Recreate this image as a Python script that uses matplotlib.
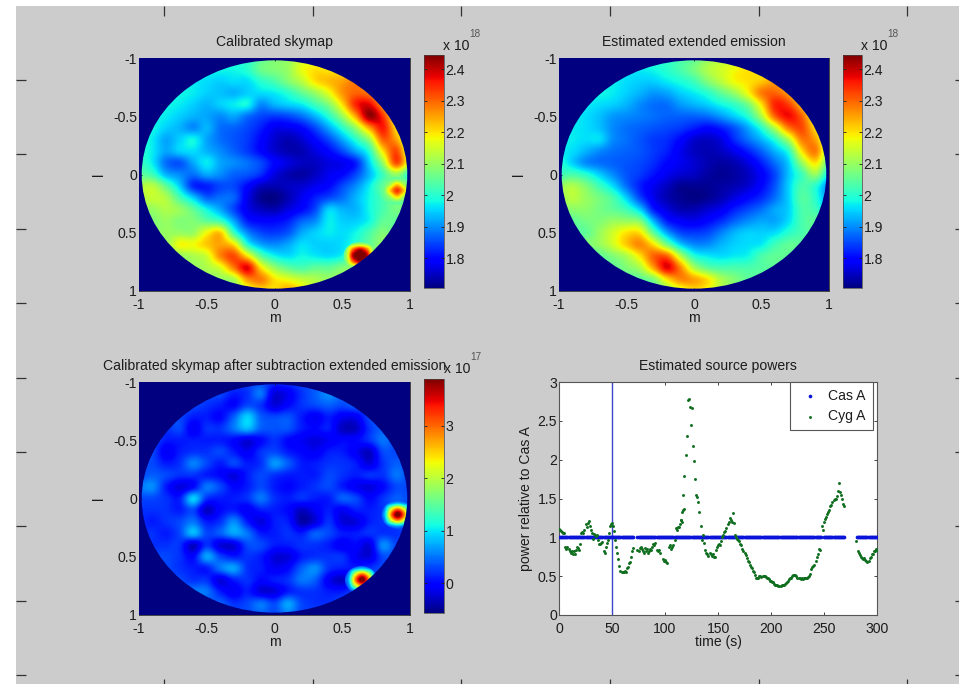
import numpy as np
import matplotlib
matplotlib.use("Agg")
import matplotlib.pyplot as plt
from matplotlib.patches import Circle, PathPatch
from matplotlib.path import Path

plt.rcParams['font.family'] = ['Liberation Sans', 'DejaVu Sans']

W, H = 959, 684
GRAY = '#cccccc'
INK = '#1c1c1c'
FS = 10.1

# Sky maps, rows y = -1..1, columns x = -1..1, step 0.1
calibrated = [
 [2.00,2.00,2.00,2.00,2.00,2.00,2.00,2.00,2.00,2.05,2.08,2.10,2.15,2.15,2.20,2.20,2.20,2.20,2.20,2.20,2.20],
 [1.98,1.98,1.98,1.98,1.98,1.98,1.98,1.98,2.00,2.06,2.08,2.10,2.17,2.20,2.20,2.20,2.22,2.22,2.20,2.20,2.20],
 [1.98,1.98,1.98,1.98,1.97,1.96,1.95,1.96,1.96,2.00,2.03,2.08,2.13,2.20,2.23,2.25,2.28,2.25,2.22,2.20,2.20],
 [1.98,1.98,1.98,1.98,1.97,1.95,1.94,1.93,1.95,1.96,1.97,2.00,2.05,2.10,2.17,2.26,2.30,2.28,2.20,2.20,2.20],
 [1.98,1.98,1.98,1.97,1.95,1.93,1.95,1.97,1.98,1.90,1.93,1.95,1.97,2.02,2.08,2.20,2.35,2.38,2.25,2.10,2.10],
 [1.98,1.98,1.97,1.95,1.93,1.92,1.90,1.92,1.88,1.85,1.84,1.85,1.88,1.93,2.00,2.10,2.25,2.43,2.34,2.15,2.10],
 [1.98,1.98,1.95,1.93,1.90,1.93,1.88,1.87,1.85,1.82,1.78,1.78,1.80,1.85,1.92,2.00,2.10,2.25,2.36,2.20,2.10],
 [2.00,1.97,1.92,1.95,1.98,1.92,1.88,1.86,1.84,1.80,1.76,1.74,1.76,1.80,1.85,1.92,2.00,2.10,2.30,2.25,2.10],
 [2.00,1.97,1.92,1.95,1.96,1.93,1.90,1.87,1.84,1.80,1.76,1.74,1.74,1.77,1.80,1.85,1.92,2.00,2.20,2.32,2.12],
 [2.02,1.97,1.88,1.86,1.92,1.97,1.92,1.90,1.88,1.85,1.80,1.77,1.75,1.75,1.77,1.78,1.82,1.95,2.10,2.32,2.15],
 [2.05,2.02,1.93,1.90,1.88,1.92,1.90,1.87,1.86,1.83,1.77,1.74,1.73,1.75,1.78,1.80,1.85,1.93,2.02,2.10,2.00],
 [2.12,2.13,2.05,1.95,1.83,1.82,1.85,1.85,1.80,1.75,1.74,1.75,1.76,1.78,1.80,1.85,1.90,1.97,2.05,2.08,2.05],
 [2.12,2.14,2.12,2.03,1.95,1.87,1.88,1.87,1.78,1.72,1.71,1.74,1.78,1.82,1.85,1.88,1.93,1.98,2.03,2.07,2.05],
 [2.10,2.10,2.12,2.10,2.05,1.98,1.92,1.85,1.78,1.75,1.74,1.77,1.80,1.85,1.95,1.93,1.93,1.98,2.03,2.07,2.05],
 [2.08,2.08,2.10,2.08,2.08,2.05,2.02,1.92,1.82,1.80,1.80,1.82,1.87,1.90,1.97,1.95,1.95,1.98,2.05,2.05,2.05],
 [2.05,2.08,2.10,2.10,2.10,2.18,2.22,2.02,1.90,1.85,1.84,1.86,1.92,1.95,1.97,1.96,1.98,2.03,2.08,2.05,2.05],
 [2.10,2.10,2.10,2.18,2.18,2.22,2.25,2.20,2.00,1.92,1.90,1.92,1.96,1.95,1.95,1.96,2.00,2.05,2.10,2.10,2.10],
 [2.10,2.10,2.10,2.10,2.12,2.15,2.27,2.32,2.20,2.05,1.98,1.96,1.98,1.97,1.96,1.98,2.05,2.07,2.10,2.10,2.10],
 [2.10,2.10,2.10,2.10,2.10,2.12,2.16,2.28,2.38,2.20,2.10,2.05,2.03,2.05,2.05,2.08,2.10,2.10,2.10,2.10,2.10],
 [2.10,2.10,2.10,2.10,2.10,2.10,2.10,2.12,2.26,2.28,2.20,2.17,2.14,2.12,2.10,2.10,2.10,2.10,2.10,2.10,2.10],
 [2.10,2.10,2.10,2.10,2.10,2.10,2.10,2.10,2.15,2.20,2.20,2.25,2.20,2.12,2.10,2.10,2.10,2.10,2.10,2.10,2.10],
]

extended = [
 [2.00,2.00,2.00,2.00,2.00,2.00,2.00,2.00,2.00,2.03,2.05,2.10,2.13,2.15,2.18,2.20,2.20,2.20,2.20,2.20,2.20],
 [1.97,1.97,1.97,1.97,1.97,1.97,1.97,1.98,2.00,2.03,2.07,2.12,2.15,2.18,2.20,2.20,2.20,2.20,2.20,2.20,2.20],
 [1.97,1.97,1.97,1.97,1.97,1.96,1.95,1.95,1.97,1.99,2.02,2.08,2.13,2.18,2.20,2.22,2.25,2.20,2.20,2.20,2.20],
 [1.98,1.98,1.98,1.98,1.97,1.95,1.93,1.91,1.92,1.95,1.97,2.00,2.05,2.10,2.18,2.28,2.30,2.25,2.15,2.15,2.15],
 [1.97,1.97,1.97,1.96,1.95,1.93,1.90,1.88,1.88,1.91,1.93,1.95,1.98,2.01,2.07,2.20,2.35,2.33,2.22,2.10,2.10],
 [1.97,1.97,1.96,1.94,1.91,1.90,1.89,1.88,1.87,1.87,1.87,1.88,1.91,1.95,2.00,2.12,2.30,2.37,2.30,2.15,2.10],
 [1.98,1.97,1.96,1.94,1.90,1.88,1.87,1.86,1.85,1.84,1.82,1.80,1.82,1.86,1.92,2.00,2.13,2.28,2.32,2.20,2.10],
 [1.98,1.97,1.96,1.96,1.90,1.88,1.86,1.84,1.83,1.80,1.76,1.75,1.77,1.83,1.88,1.93,2.00,2.12,2.28,2.25,2.10],
 [1.97,1.96,1.93,1.90,1.88,1.87,1.86,1.84,1.82,1.78,1.75,1.74,1.75,1.78,1.82,1.87,1.93,2.00,2.20,2.28,2.10],
 [2.00,1.95,1.90,1.88,1.87,1.86,1.85,1.83,1.80,1.78,1.76,1.74,1.73,1.74,1.77,1.82,1.88,1.95,2.10,2.20,2.05],
 [2.02,2.03,2.00,1.95,1.90,1.86,1.84,1.81,1.78,1.76,1.75,1.73,1.72,1.73,1.75,1.79,1.85,1.94,2.02,2.10,1.97],
 [2.10,2.12,2.08,2.02,1.96,1.88,1.82,1.78,1.75,1.72,1.72,1.72,1.73,1.74,1.76,1.80,1.86,1.95,2.03,2.00,1.90],
 [2.10,2.13,2.10,2.07,2.03,1.95,1.85,1.78,1.74,1.72,1.71,1.72,1.74,1.77,1.80,1.83,1.88,1.95,2.04,2.00,1.90],
 [2.08,2.09,2.09,2.07,2.05,2.02,1.95,1.82,1.77,1.74,1.74,1.76,1.78,1.82,1.85,1.88,1.92,1.95,2.03,2.02,1.95],
 [2.05,2.05,2.07,2.08,2.10,2.10,2.08,1.93,1.82,1.79,1.78,1.80,1.83,1.87,1.90,1.92,1.92,1.96,2.03,2.05,2.05],
 [2.05,2.05,2.05,2.10,2.15,2.20,2.20,2.05,1.92,1.85,1.84,1.85,1.89,1.93,1.95,1.95,1.96,2.00,2.03,2.05,2.05],
 [2.08,2.08,2.08,2.10,2.15,2.22,2.27,2.20,2.07,1.95,1.90,1.90,1.93,1.95,1.96,1.97,2.02,2.05,2.05,2.05,2.05],
 [2.05,2.05,2.05,2.05,2.08,2.12,2.20,2.30,2.30,2.13,2.00,1.97,1.96,1.97,1.98,2.03,2.05,2.05,2.05,2.05,2.05],
 [2.05,2.05,2.05,2.05,2.05,2.08,2.12,2.25,2.38,2.27,2.12,2.05,2.03,2.03,2.03,2.04,2.05,2.05,2.05,2.05,2.05],
 [2.05,2.05,2.05,2.05,2.05,2.05,2.05,2.08,2.20,2.27,2.25,2.20,2.12,2.08,2.05,2.05,2.05,2.05,2.05,2.05,2.05],
 [2.05,2.05,2.05,2.05,2.05,2.05,2.05,2.05,2.10,2.15,2.20,2.18,2.12,2.08,2.05,2.05,2.05,2.05,2.05,2.05,2.05],
]

residual = [
 [0.3,0.3,0.3,0.3,0.3,0.3,0.3,0.3,0.3,0.3,0.2,0.2,0.3,0.3,0.4,0.3,0.3,0.3,0.3,0.3,0.3],
 [0.3,0.3,0.3,0.3,0.3,0.3,0.3,0.1,0.2,0.5,-0.2,-0.1,0.2,0.4,0.6,0.4,0.3,0.3,0.3,0.3,0.3],
 [0.3,0.3,0.3,0.3,0.3,0.2,0.1,0.0,0.3,0.2,-0.2,0.0,0.2,0.3,0.4,0.3,0.4,0.3,0.3,0.3,0.3],
 [0.3,0.3,0.3,0.3,0.1,0.1,0.0,0.4,0.9,0.4,0.3,0.35,0.1,-0.1,0.1,-0.1,-0.1,0.3,0.4,0.3,0.3],
 [0.3,0.3,0.2,0.3,-0.1,0.2,0.2,0.5,0.8,0.4,0.35,0.35,0.1,0.0,0.1,-0.3,-0.3,0.2,0.4,0.3,0.3],
 [0.3,0.3,0.1,0.1,0.1,0.1,0.1,0.0,-0.2,0.0,0.2,0.0,-0.1,-0.2,-0.1,0.0,0.0,0.2,0.5,0.3,0.3],
 [0.3,0.3,-0.1,0.1,0.2,0.2,0.3,0.1,-0.1,0.2,0.3,0.1,0.0,-0.1,0.1,0.1,-0.1,-0.3,0.3,0.3,0.3],
 [0.3,0.3,0.1,0.2,0.55,0.3,0.1,0.3,0.1,0.2,0.65,0.4,0.1,0.1,0.2,0.2,0.1,-0.2,0.2,0.4,0.3],
 [0.3,0.4,0.3,0.2,0.2,0.1,0.0,-0.2,0.1,0.3,0.2,0.1,0.1,0.1,0.3,0.2,0.1,0.2,0.2,0.5,0.3],
 [0.5,0.6,0.1,-0.2,0.0,0.5,0.3,0.0,0.1,0.3,0.1,0.0,0.1,0.2,0.3,0.1,-0.1,-0.2,0.0,0.3,0.3],
 [0.3,0.3,0.2,0.1,0.9,0.2,0.1,0.1,0.2,0.5,0.2,0.1,0.2,0.1,0.1,0.4,0.3,0.0,0.2,0.4,0.3],
 [0.2,0.2,0.2,0.1,0.3,-0.3,0.0,0.1,-0.1,0.1,0.1,0.0,-0.3,-0.1,0.1,-0.1,0.1,0.1,0.2,0.4,0.3],
 [0.2,0.1,0.2,0.3,0.5,0.1,0.2,0.6,0.1,-0.2,0.1,0.1,-0.4,-0.2,0.2,-0.2,-0.2,0.1,0.2,0.3,0.3],
 [0.2,0.2,0.1,0.3,0.8,0.3,0.4,0.7,0.5,0.1,0.1,0.2,0.1,0.4,0.3,0.1,0.1,0.2,0.2,0.2,0.3],
 [0.3,0.2,0.2,0.2,-0.3,0.2,-0.2,-0.2,0.3,0.3,0.1,0.1,0.2,0.2,0.1,-0.1,0.0,-0.2,0.6,0.3,0.3],
 [0.3,0.3,0.3,0.2,0.0,0.7,0.3,0.1,0.2,0.1,-0.2,-0.2,0.1,0.2,0.2,0.2,-0.1,-0.2,0.3,0.3,0.3],
 [0.3,0.3,0.3,0.2,0.1,0.1,0.5,0.7,0.2,0.1,-0.1,0.0,0.4,0.6,0.2,0.1,0.1,0.2,0.3,0.3,0.3],
 [0.3,0.3,0.3,0.3,0.2,0.2,-0.2,0.1,0.2,0.0,0.1,0.2,0.5,0.4,-0.1,-0.3,0.1,0.3,0.3,0.3,0.3],
 [0.3,0.3,0.3,0.3,0.5,0.5,0.1,-0.1,0.1,-0.2,-0.2,0.1,0.2,0.2,0.1,0.1,0.3,0.3,0.3,0.3,0.3],
 [0.3,0.3,0.3,0.3,0.3,0.3,0.4,0.2,0.3,0.5,0.3,0.7,0.3,0.2,0.2,0.3,0.3,0.3,0.3,0.3,0.3],
 [0.3,0.3,0.3,0.3,0.3,0.3,0.3,0.3,0.3,0.4,0.3,0.5,0.3,0.3,0.3,0.3,0.3,0.3,0.3,0.3,0.3],
]

# Compact sources: centre and a 7x7 patch with 0.05 spacing
source_centres = [(0.63, 0.70), (0.90, 0.14)]
res_centres = [(0.64, 0.70), (0.91, 0.14)]
cal_spot_a = [
 [2.07,2.07,2.07,2.07,2.07,2.07,2.07],
 [2.07,2.07,2.09,2.10,2.09,2.07,2.07],
 [2.07,2.09,2.30,2.41,2.30,2.09,2.07],
 [2.07,2.10,2.41,2.46,2.41,2.10,2.07],
 [2.07,2.09,2.30,2.41,2.30,2.09,2.07],
 [2.07,2.07,2.09,2.10,2.09,2.07,2.07],
 [2.07,2.07,2.07,2.07,2.07,2.07,2.07],
]
cal_spot_b = [
 [2.05,2.05,2.05,2.05,2.05,2.05,2.05],
 [2.05,2.05,2.05,2.06,2.05,2.05,2.05],
 [2.05,2.05,2.12,2.22,2.12,2.05,2.05],
 [2.05,2.06,2.22,2.34,2.22,2.06,2.05],
 [2.05,2.05,2.12,2.22,2.12,2.05,2.05],
 [2.05,2.05,2.05,2.06,2.05,2.05,2.05],
 [2.05,2.05,2.05,2.05,2.05,2.05,2.05],
]
res_spot = [
 [0.30,0.30,0.30,0.30,0.30,0.30,0.30],
 [0.30,0.30,0.50,0.70,0.50,0.30,0.30],
 [0.30,0.50,2.00,2.80,2.00,0.50,0.30],
 [0.30,0.70,2.80,4.00,2.80,0.70,0.30],
 [0.30,0.50,2.00,2.80,2.00,0.50,0.30],
 [0.30,0.30,0.50,0.70,0.50,0.30,0.30],
 [0.30,0.30,0.30,0.30,0.30,0.30,0.30],
]

map_ticks = [-1, -0.5, 0, 0.5, 1]
map_labels = ['-1', '-0.5', '0', '0.5', '1']
cbar_ticks_18 = [1.8, 1.9, 2.0, 2.1, 2.2, 2.3, 2.4]
cbar_ticks_17 = [0, 1, 2, 3]
range_18 = (1.706, 2.445)
range_17 = (-0.57, 3.89)

# Source powers
cas_spans = [(0, 70), (74, 247), (250, 269), (281, 300)]
cas_spike_time = 50
cyg_t = list(range(0, 71)) + list(range(74, 96)) + list(range(98, 103)) + list(range(104, 117))
cyg_p = [1.11,1.10,1.08,1.07,1.06,1.05,0.87,0.85,0.88,0.85,0.83,0.80,0.82,0.78,0.82,0.79,0.84,0.87,0.86,0.84,
         0.91,1.05,1.07,1.06,1.10,1.17,1.13,1.18,1.21,1.15,1.10,1.05,0.98,1.04,1.03,1.02,1.03,0.96,0.92,0.91,
         0.93,0.94,0.83,0.80,0.88,0.93,0.96,1.05,1.15,1.17,1.19,1.14,1.08,0.97,0.88,0.80,0.72,0.63,0.57,0.55,
         0.56,0.55,0.57,0.56,0.60,0.62,0.67,0.68,0.75,0.82,0.86,
         0.84,0.82,0.86,0.87,0.85,0.83,0.80,0.86,0.82,0.85,0.80,0.83,0.85,0.84,0.87,0.92,0.90,0.93,0.84,0.82,0.84,0.80,
         0.72,0.70,0.71,0.68,0.67,
         0.87,0.90,0.85,0.87,0.90,0.97,1.12,1.10,1.13,1.13,1.17,1.22,1.20]
peak_t = [117.4,118,119.6,120.5,121.8,123,123.7,124.6,125.6,126.8,127.5,128.7,129.4,130.6,131.6,132.5,133.8,134.7,135.7,136.9,138]
peak_p = [1.54,1.79,2.06,2.31,2.77,2.78,2.68,2.45,2.67,2.18,1.98,1.75,1.55,1.52,1.46,1.32,1.15,0.97,1.03,0.93,0.84]
late_t = list(range(115, 119)) + list(range(139, 247)) + list(range(248, 270)) + [280] + list(range(282, 301))
late_p = [1.22,1.33,1.35,1.36,
          0.80,0.78,0.76,0.80,0.78,0.76,0.78,0.75,0.75,0.84,0.87,0.90,0.92,0.90,0.95,1.00,1.03,1.07,1.08,1.12,1.17,1.20,1.25,1.22,1.20,1.31,1.18,
          1.03,1.00,0.98,0.97,0.95,0.92,0.90,0.85,0.83,0.80,0.77,0.73,0.70,0.68,0.65,0.62,0.60,0.57,0.55,0.52,0.48,0.47,0.48,0.50,0.50,0.49,0.50,0.50,0.50,
          0.49,0.48,0.47,0.46,0.44,0.44,0.42,0.42,0.40,0.39,0.38,0.38,0.37,0.37,0.37,0.38,0.39,0.39,0.40,0.41,0.42,0.44,0.46,0.47,0.48,0.50,0.51,0.51,0.52,
          0.50,0.48,0.47,0.47,0.46,0.47,0.46,0.47,0.48,0.48,0.48,0.49,0.50,0.53,0.59,0.62,0.63,0.65,0.70,0.75,0.78,0.85,0.84,
          1.14,1.10,1.20,1.23,1.26,1.30,1.33,1.35,1.40,1.42,1.45,1.48,1.49,1.50,1.53,1.60,1.70,1.58,1.55,1.50,1.43,1.40,
          0.95,
          0.82,0.80,0.77,0.75,0.73,0.72,0.73,0.71,0.70,0.68,0.70,0.73,0.75,0.79,0.78,0.82,0.83,0.85,0.84]
late_n = min(len(late_t), len(late_p))
late_t, late_p = late_t[:late_n], late_p[:late_n]

frame_x = [164, 313, 461, 610, 759, 907]
frame_y = [80, 154, 229, 303, 378, 452, 526, 601, 675]


def rect(x0, y0, x1, y1):
    return [x0 / W, 1 - y1 / H, (x1 - x0) / W, (y1 - y0) / H]


def ftext(x, y, s, **kw):
    kw.setdefault('color', INK)
    kw.setdefault('fontsize', FS)
    kw.setdefault('ha', 'center')
    kw.setdefault('va', 'center')
    return fig.text(x / W, 1 - y / H, s, **kw)


fig = plt.figure(figsize=(W / 100, H / 100), dpi=100, facecolor='white')

# gray panel with its stray frame ticks
bg = fig.add_axes(rect(16, 6, 965, 689), facecolor=GRAY)
bg.set_xlim(16, 965)
bg.set_ylim(689, 6)
for s in bg.spines.values():
    s.set_visible(False)
bg.set_xticks(frame_x)
bg.set_yticks(frame_y)
bg.tick_params(direction='in', length=7, width=0.9, color='#333333',
               top=True, bottom=True, left=True, right=True,
               labelbottom=False, labelleft=False)


def draw_map(box, cbox, grid, spots, centres, vrange, cticks, title, exp, ex_pos):
    ax = fig.add_axes(rect(*box))
    cmap = plt.get_cmap('jet')
    vmin, vmax = vrange
    ax.set_facecolor(cmap(0.0))
    im = ax.imshow(grid, extent=(-1.05, 1.05, 1.05, -1.05), cmap=cmap, vmin=vmin, vmax=vmax,
                   interpolation='catrom', aspect='auto', zorder=1)
    for spot, (cx, cy) in zip(spots, centres):
        sp = ax.imshow(spot, extent=(cx - 0.175, cx + 0.175, cy + 0.175, cy - 0.175), cmap=cmap,
                       vmin=vmin, vmax=vmax, interpolation='catrom', aspect='auto', zorder=2)
        sp.set_clip_path(Circle((cx, cy), 0.12, transform=ax.transData))
    # everything outside the sky circle is the lowest colour
    sq = Path([(-1.2, -1.2), (-1.2, 1.2), (1.2, 1.2), (1.2, -1.2), (-1.2, -1.2)],
              [Path.MOVETO, Path.LINETO, Path.LINETO, Path.LINETO, Path.CLOSEPOLY])
    hole = Path.circle((0, 0), 0.98)
    ax.add_patch(PathPatch(Path.make_compound_path(sq, hole), facecolor=cmap(0.0), lw=0, zorder=3))
    ax.set_xlim(-1, 1)
    ax.set_ylim(1, -1)
    ax.set_xticks(map_ticks, map_labels)
    ax.set_yticks(map_ticks, map_labels)
    ax.tick_params(direction='in', length=2.5, width=0.6, color='#222222', top=True, right=True,
                   labelsize=FS, labelcolor=INK)
    ax.tick_params(axis='x', pad=5)
    ax.tick_params(axis='y', pad=1.5)
    for s in ax.spines.values():
        s.set_linewidth(0.7)
        s.set_color('#444444')
    ax.set_xlabel('m', fontsize=FS, color=INK, labelpad=-1)
    ax.set_ylabel('l', fontsize=FS, color=INK, labelpad=5)
    ax.set_title(title, fontsize=FS, color=INK, pad=8.5)
    cax = fig.add_axes(rect(*cbox))
    cb = fig.colorbar(im, cax=cax)
    cb.set_ticks(cticks, labels=[f'{t:g}' for t in cticks])
    cax.tick_params(direction='in', length=2, width=0.6, color='#222222', left=True, right=True,
                    labelsize=FS, labelcolor=INK, pad=1)
    cb.outline.set_linewidth(0.5)
    cb.outline.set_edgecolor('#444444')
    ftext(ex_pos[0], ex_pos[1], 'x 10')
    ftext(ex_pos[0] + 19, ex_pos[1] - 12, exp, fontsize=7.2, color='#555555')
    return ax


draw_map((139, 58, 410, 291), (424, 55, 444, 288), calibrated, [cal_spot_a, cal_spot_b], source_centres,
         range_18, cbar_ticks_18, 'Calibrated skymap', '18', (456, 46))
draw_map((559, 58, 829, 291), (843, 55, 862, 288), extended, [], [],
         range_18, cbar_ticks_18, 'Estimated extended emission', '18', (874, 46))
draw_map((139, 382, 410, 615), (424, 379, 444, 613), residual, [res_spot, res_spot], res_centres,
         range_17, cbar_ticks_17, 'Calibrated skymap after subtraction extended emission', '17', (457, 369))

# source powers
ax = fig.add_axes(rect(559, 382, 877, 615), facecolor='white')
cas_t = np.concatenate([np.arange(a, b + 1) for a, b in cas_spans])
ax.plot([cas_spike_time, cas_spike_time], [0, 3], color='#3a46c8', lw=1.0, zorder=2)
ax.scatter(cas_t, np.ones_like(cas_t), s=7, color='#0a14d8', linewidths=0, label='Cas A', zorder=3)
cyg_time = cyg_t + peak_t + late_t
cyg_power = cyg_p + peak_p + late_p
ax.scatter(cyg_time, cyg_power, s=4.5, color='#0f6e1e', linewidths=0, label='Cyg A', zorder=4)
ax.set_xlim(0, 300)
ax.set_ylim(0, 3)
ax.set_xticks([0, 50, 100, 150, 200, 250, 300])
ax.set_yticks([0, 0.5, 1, 1.5, 2, 2.5, 3], ['0', '0.5', '1', '1.5', '2', '2.5', '3'])
ax.tick_params(direction='in', length=2.5, width=0.6, color='#222222', top=True, right=True,
               labelsize=FS, labelcolor=INK)
ax.tick_params(axis='x', pad=5)
ax.tick_params(axis='y', pad=1.5)
for s in ax.spines.values():
    s.set_linewidth(0.8)
    s.set_color('#555555')
ax.set_xlabel('time (s)', fontsize=FS, color=INK, labelpad=-1)
ax.set_ylabel('power relative to Cas A', fontsize=FS, color=INK, labelpad=3.5)
ax.set_title('Estimated source powers', fontsize=FS, color=INK, pad=8.5)
leg = ax.legend(loc='upper right', bbox_to_anchor=(0.987, 1.0), borderaxespad=0, fontsize=FS,
                fancybox=False, framealpha=1, edgecolor='#555555', borderpad=0.5, labelspacing=0.45,
                handletextpad=0.4, handlelength=1.8, scatterpoints=1)
leg.get_frame().set_linewidth(0.8)
for t in leg.get_texts():
    t.set_color(INK)

fig.savefig('out.png', dpi=100, facecolor='white')
